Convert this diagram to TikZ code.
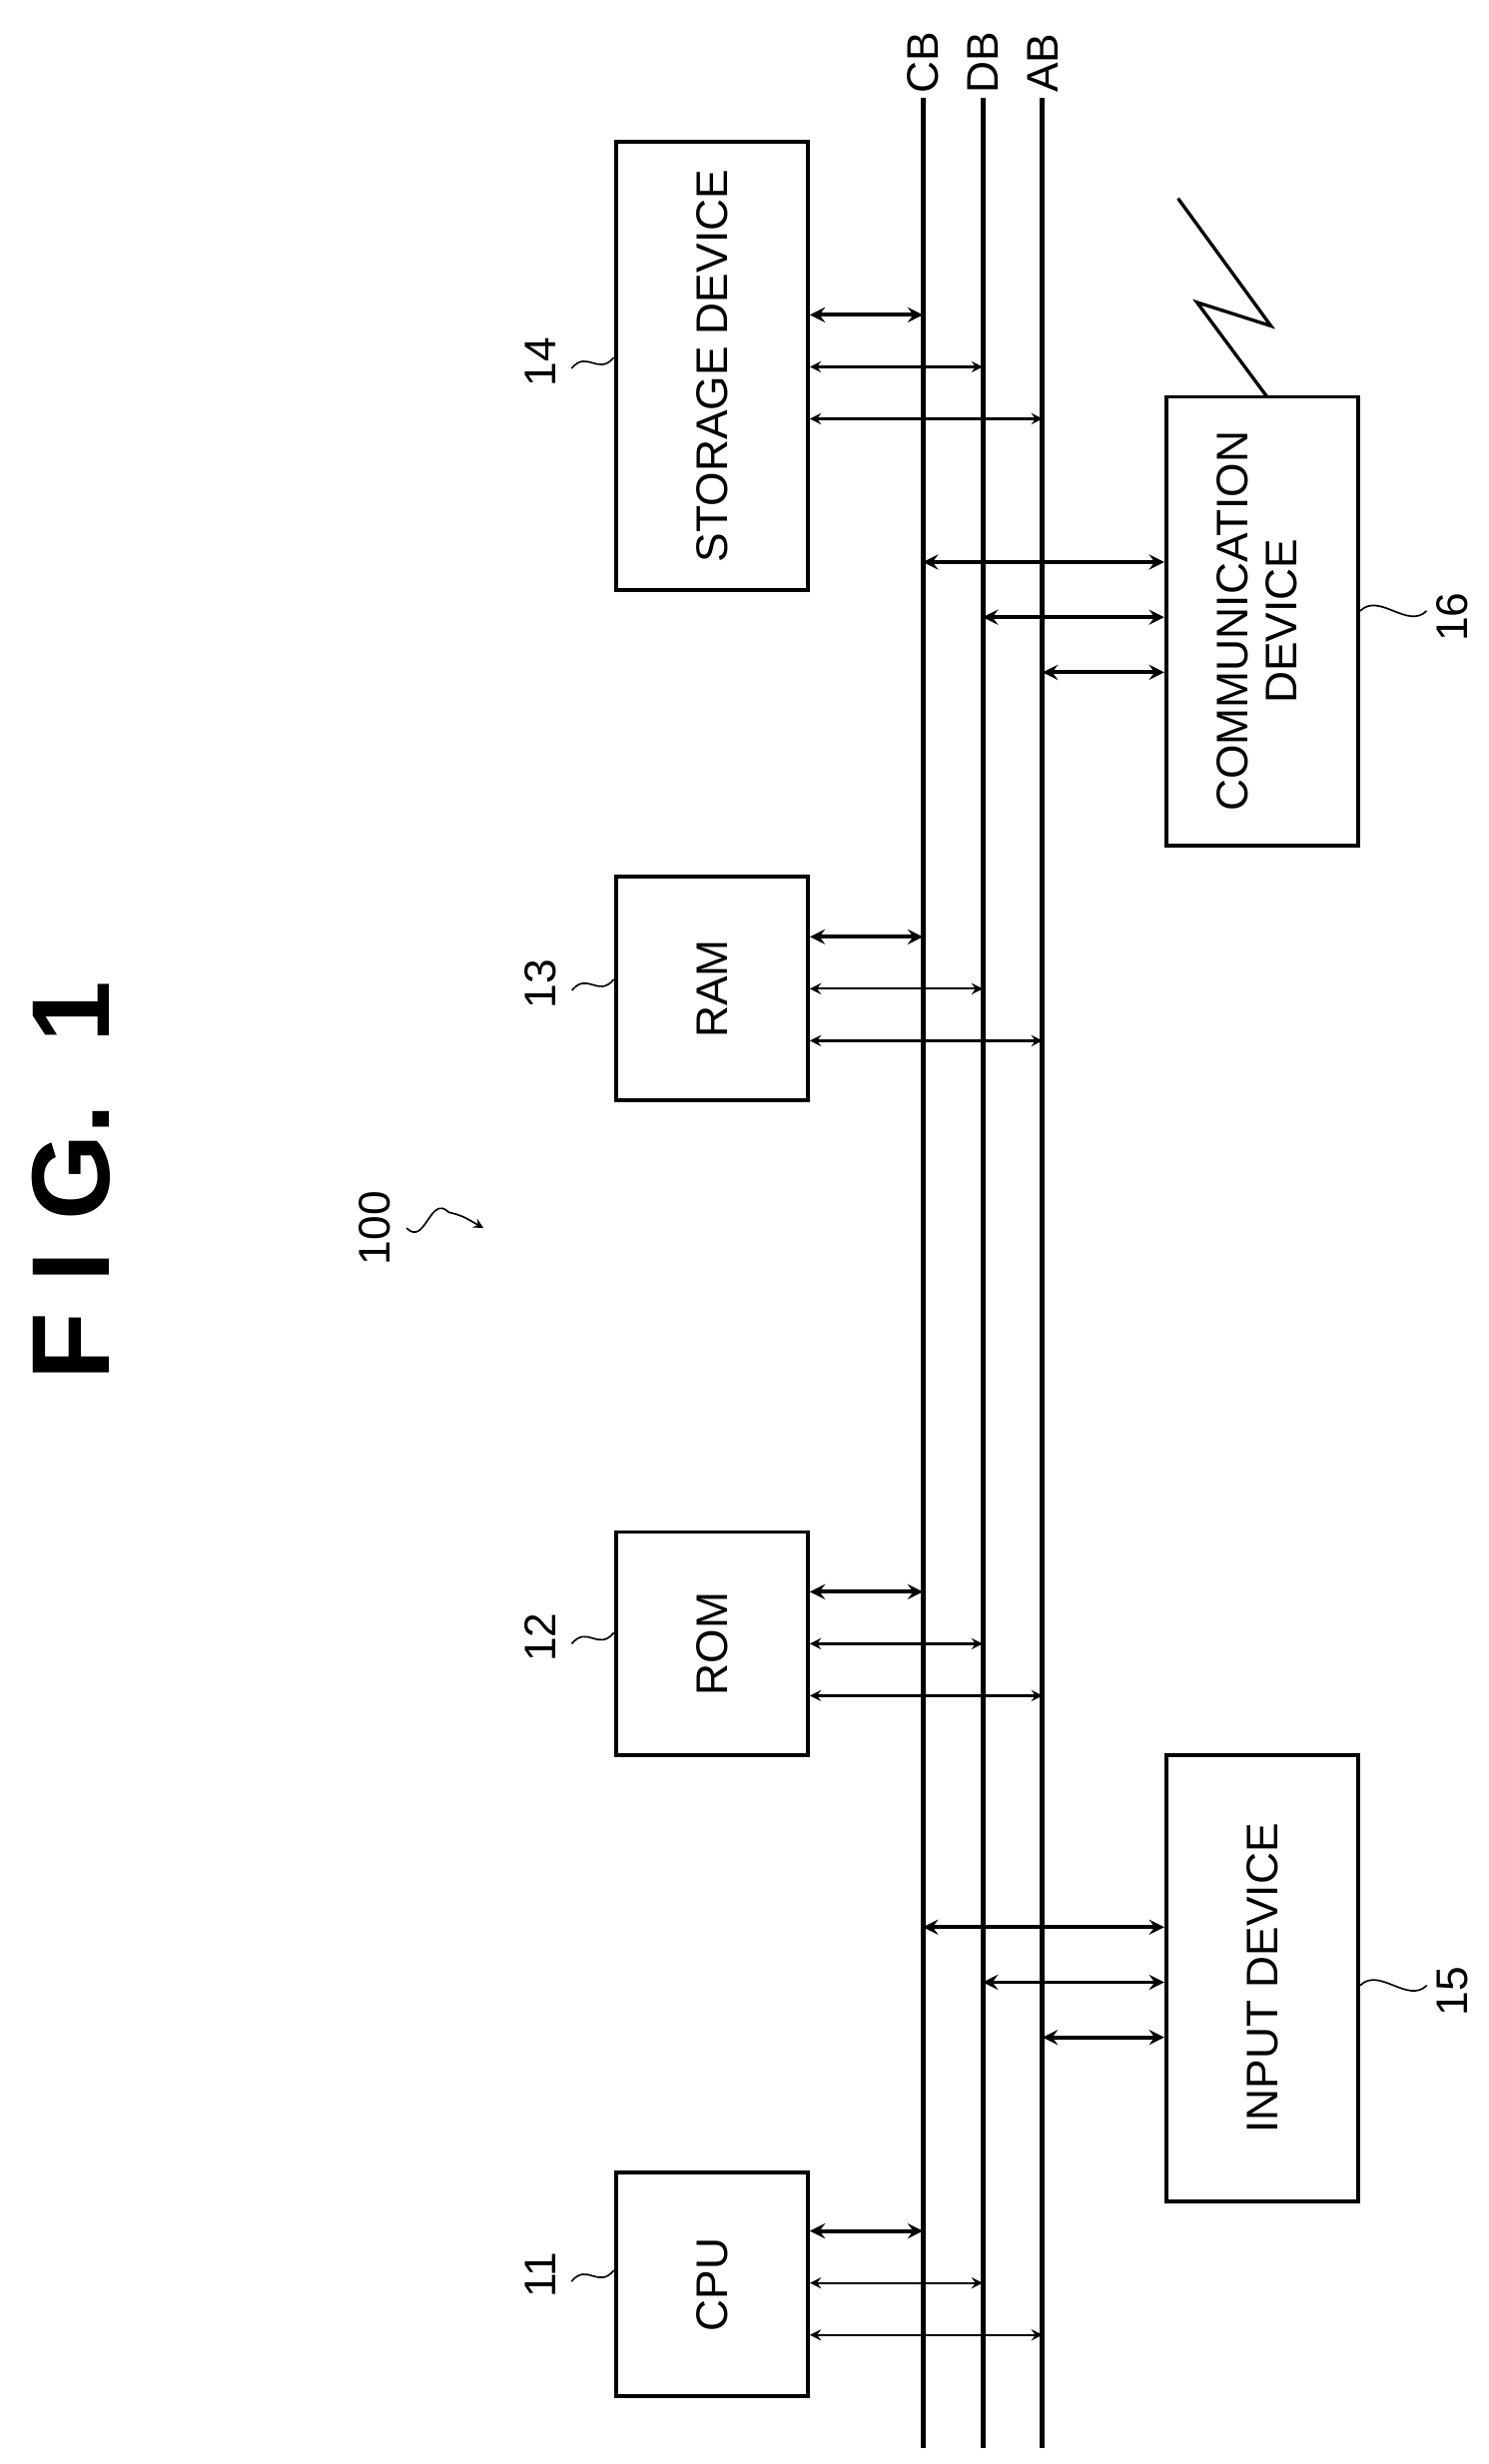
\documentclass[tikz,border=0pt]{standalone}
\usepackage{fontspec}
\setmainfont{Liberation Sans}
\usetikzlibrary{arrows,positioning}
\tikzstyle{block} = [rectangle, draw=black, line width=1.4pt, inner sep=0pt, minimum width=2.44cm, font=\fontsize{16}{18}\selectfont]
\tikzstyle{bus} = [line width=1.8pt]
\tikzstyle{arrow} = [<->,>=stealth, line width=0.8pt]
\tikzstyle{thickarrow} = [<->,>=stealth, line width=1.4pt]
\tikzstyle{num} = [font=\fontsize{16}{18}\selectfont, rotate=90]
\tikzstyle{wave} = [line width=0.6pt]
\begin{document}
\begin{tikzpicture}[x=0.02cm, y=-0.02cm]
\useasboundingbox (0,0) rectangle (945,1565);
% titel
\node (fig) [font=\fontsize{40}{44}\selectfont\bfseries, rotate=90] at (45,750) {F I G.\ \ 1};
% busse
\coordinate (cb) at (586,62); \coordinate (db) at (624,62); \coordinate (ab) at (662,62);
\draw [bus] (cb) -- (586,1555);
\draw [bus] (db) -- (624,1555);
\draw [bus] (ab) -- (662,1555);
\node [num, anchor=west] at (586,40) {}; 
\node (cbl) [num] at (586,40) {CB};
\node (dbl) [num] at (624,40) {DB};
\node (abl) [num] at (662,40) {AB};
% blöcke links
\node (sd) [block, minimum height=5.7cm] at (452,232.5) {\rotatebox{90}{STORAGE DEVICE}};
\node (ram) [block, minimum height=2.84cm] at (452,628) {\rotatebox{90}{RAM}};
\node (rom) [block, minimum height=2.84cm] at (452,1044) {\rotatebox{90}{ROM}};
\node (cpu) [block, minimum height=2.84cm] at (452,1451) {\rotatebox{90}{CPU}};
% blöcke rechts
\node (com) [block, minimum height=5.7cm, align=center] at (801.5,394.5) {\rotatebox{90}{\begin{tabular}{c}COMMUNICATION\\DEVICE\end{tabular}}};
\node (inp) [block, minimum height=5.66cm] at (801.5,1256.5) {\rotatebox{90}{INPUT DEVICE}};
% pfeile
\foreach \b/\y in {sd/200, ram/595, rom/1011, cpu/1417} {
  \draw [thickarrow] (\b.east |- 0,\y) -- (cb |- 0,\y);
  \draw [arrow] (\b.east |- 0,\y+33) -- (db |- 0,\y+33);
  \draw [arrow] (\b.east |- 0,\y+66) -- (ab |- 0,\y+66);
}
\foreach \b/\y in {com/357, inp/1224} {
  \draw [thickarrow] (cb |- 0,\y) -- (\b.west |- 0,\y);
  \draw [thickarrow] (db |- 0,\y+35) -- (\b.west |- 0,\y+35);
  \draw [thickarrow] (ab |- 0,\y+70) -- (\b.west |- 0,\y+70);
}
% antenne
\draw [line width=1.2pt] (com.north |- 0,252) ++(3,0) -- (760,192) -- (807,207) -- (748,126);
% nummern
\foreach \b/\n/\y in {sd/14/230, ram/13/625, rom/12/1040, cpu/11/1445} {
  \node (l\n) [num] at (343,\y) {\n};
  \draw [wave] (l\n.south) ++(4,4) .. controls +(10,-12) and +(-10,12) .. (\b.west |- 0,\y-3);
}
\node (l16) [num] at (922,392) {16};
\draw [wave] (com.east |- 0,388) .. controls +(12,-12) and +(-12,12) .. (l16.north |- 0,388) ++(-4,0);
\node (l15) [num] at (922,1265) {15};
\draw [wave] (inp.east |- 0,1261) .. controls +(12,-12) and +(-12,12) .. (l15.north |- 0,1261) ++(-4,0);
\node (l100) [num] at (238,780) {100};
\coordinate (p100) at (307,780);
\draw [wave, ->, >=stealth] (l100.south) ++(4,0) .. controls +(12,12) and +(-12,-12) .. (285,770) .. controls +(8,2) .. (p100);
\end{tikzpicture}
\end{document}
